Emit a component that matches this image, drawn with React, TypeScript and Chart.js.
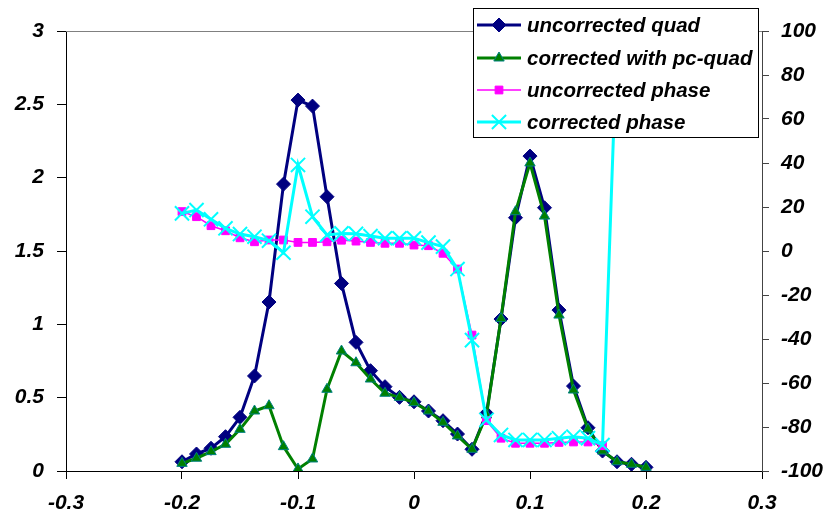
import React, { useEffect, useRef } from 'react';
import { Chart, registerables } from 'chart.js';
import { drawPoint } from 'chart.js/helpers';

Chart.register(...registerables);

const xValues = [
  -0.2, -0.1875, -0.175, -0.1625, -0.15, -0.1375, -0.125, -0.1125, -0.1, -0.0875, -0.075,
  -0.0625, -0.05, -0.0375, -0.025, -0.0125, 0, 0.0125, 0.025, 0.0375, 0.05, 0.0625, 0.075,
  0.0875, 0.1, 0.1125, 0.125, 0.1375, 0.15, 0.1625, 0.175, 0.1875, 0.2,
];

const uncorrectedQuad = [
  0.063, 0.116, 0.155, 0.234, 0.366, 0.648, 1.152, 1.956, 2.529, 2.488, 1.87, 1.279, 0.877,
  0.684, 0.575, 0.502, 0.472, 0.409, 0.343, 0.252, 0.148, 0.393, 1.036, 1.727, 2.147, 1.795,
  1.097, 0.579, 0.295, 0.136, 0.063, 0.046, 0.025,
];

const correctedPcQuad = [
  0.052, 0.087, 0.132, 0.182, 0.284, 0.409, 0.445, 0.166, 0.014, 0.082, 0.557, 0.818, 0.738,
  0.627, 0.53, 0.502, 0.466, 0.409, 0.332, 0.239, 0.148, 0.382, 1.04, 1.768, 2.1, 1.738,
  1.063, 0.552, 0.286, 0.136, 0.063, 0.046, 0.025,
];

const uncorrectedPhase = [
  17.9, 15.6, 11.5, 9.2, 6.0, 4.2, 5.0, 5.0, 3.9, 3.9, 4.2, 4.9, 4.5, 3.9, 3.5, 3.5, 2.7, 2.4,
  -1.05, -8.2, -38.2, -77.1, -85.1, -87.4, -87.4, -87.4, -87.0, -86.8, -86.8, -88.5,
];

const correctedPhase = [
  17.1, 18.6, 14.4, 10.3, 7.7, 6.5, 4.7, -0.8, 39.1, 15.6, 7.3, 8.0, 7.8, 6.8, 5.8, 5.8, 5.8,
  3.8, 2.0, -8.2, -40.5, -76.8, -83.6, -85.9, -85.9, -85.9, -85.1, -84.4, -85.1, -88.2, 98,
];

const seriesNames = [
  'uncorrected quad',
  'corrected with pc-quad',
  'uncorrected phase',
  'corrected phase',
];

const FAMILY = '"Liberation Sans", Arial, sans-serif';

const fmt = (v: number) => String(Math.round(v * 1000) / 1000);

export default function App() {
  const ref = useRef<HTMLCanvasElement>(null);

  useEffect(() => {
    const toPts = (ys: number[]) => ys.map((y, i) => ({ x: xValues[i], y }));

    const styles = [
      { line: '#000080', lw: 3, ps: 'rectRot', r: 7, fill: '#000080', stroke: '#000080', pbw: 1 },
      { line: '#008000', lw: 3, ps: 'triangle', r: 6, fill: '#008000', stroke: '#008080', pbw: 1 },
      { line: '#FF00FF', lw: 1.5, ps: 'rect', r: 5.5, fill: '#FF00FF', stroke: '#FF00FF', pbw: 1 },
      { line: '#00FFFF', lw: 3, ps: 'crossRot', r: 10, fill: '#00FFFF', stroke: '#00FFFF', pbw: 2 },
    ];

    const frame = {
      id: 'frame',
      beforeDatasetsDraw(chart: any) {
        const { ctx, chartArea } = chart;
        ctx.save();
        ctx.strokeStyle = '#808080';
        ctx.lineWidth = 1;
        ctx.beginPath();
        ctx.moveTo(chartArea.left, chartArea.top + 0.5);
        ctx.lineTo(chartArea.right, chartArea.top + 0.5);
        ctx.stroke();
        ctx.restore();
      },
    };

    const legendBox = {
      id: 'legendBox',
      afterDraw(chart: any) {
        const ctx = chart.ctx;
        ctx.save();
        const bx = 473, by = 8, bw = 285, bh = 129;
        ctx.fillStyle = '#ffffff';
        ctx.fillRect(bx, by, bw, bh);
        ctx.strokeStyle = '#000000';
        ctx.lineWidth = 1;
        ctx.strokeRect(bx + 0.5, by + 0.5, bw, bh);
        const rows = [25, 58, 90, 122];
        ctx.font = `italic bold 20.5px ${FAMILY}`;
        ctx.textBaseline = 'middle';
        ctx.textAlign = 'left';
        styles.forEach((s, i) => {
          const y = rows[i];
          ctx.strokeStyle = s.line;
          ctx.lineWidth = s.lw;
          ctx.beginPath();
          ctx.moveTo(477, y);
          ctx.lineTo(521, y);
          ctx.stroke();
          ctx.fillStyle = s.fill;
          ctx.strokeStyle = s.stroke;
          ctx.lineWidth = s.pbw;
          drawPoint(ctx, { pointStyle: s.ps as any, rotation: 0, radius: s.r, borderWidth: s.pbw }, 499, y);
          ctx.fillStyle = '#000000';
          ctx.fillText(seriesNames[i], 527, y + 1);
        });
        ctx.restore();
      },
    };

    const series = [uncorrectedQuad, correctedPcQuad, uncorrectedPhase, correctedPhase];
    const axes = ['y', 'y', 'y1', 'y1'];
    const orders = [4, 3, 2, 1];

    const tickFont = { family: FAMILY, size: 21, style: 'italic' as const, weight: 'bold' as const };

    const chart = new Chart(ref.current as HTMLCanvasElement, {
      type: 'scatter',
      data: {
        datasets: series.map((ys, i) => ({
          label: seriesNames[i],
          data: toPts(ys),
          yAxisID: axes[i],
          order: orders[i],
          showLine: true,
          borderColor: styles[i].line,
          borderWidth: styles[i].lw,
          backgroundColor: styles[i].fill,
          pointStyle: styles[i].ps as any,
          pointRadius: styles[i].r,
          pointHoverRadius: styles[i].r,
          pointBackgroundColor: styles[i].fill,
          pointBorderColor: styles[i].stroke,
          pointBorderWidth: styles[i].pbw,
          tension: 0,
        })),
      },
      options: {
        animation: false,
        responsive: true,
        maintainAspectRatio: false,
        layout: { padding: { top: 31, left: 0, right: 0, bottom: 0 } },
        plugins: { legend: { display: false }, tooltip: { enabled: false } },
        scales: {
          x: {
            type: 'linear',
            position: 'bottom',
            min: -0.3,
            max: 0.3,
            ticks: { stepSize: 0.1, callback: (v: any) => fmt(Number(v)), font: tickFont, color: '#000', padding: 12, maxRotation: 0 },
            grid: { drawOnChartArea: false, drawTicks: true, tickLength: 8, color: '#000' },
            border: { color: '#000', width: 1 },
            afterFit: (s: any) => { s.height = 47; },
          },
          y: {
            type: 'linear',
            position: 'left',
            min: 0,
            max: 3,
            ticks: { stepSize: 0.5, callback: (v: any) => fmt(Number(v)), font: tickFont, color: '#000', padding: 13 },
            grid: { drawOnChartArea: false, drawTicks: true, tickLength: 9, color: '#000' },
            border: { color: '#000', width: 1 },
            afterFit: (s: any) => { s.width = 66; },
          },
          y1: {
            type: 'linear',
            position: 'right',
            min: -100,
            max: 100,
            ticks: { stepSize: 20, callback: (v: any) => fmt(Number(v)), font: tickFont, color: '#000', padding: 12 },
            grid: { drawOnChartArea: false, drawTicks: true, tickLength: 7, color: '#444' },
            border: { color: '#444', width: 1 },
            afterFit: (s: any) => { s.width = 65; },
          },
        },
      },
      plugins: [frame, legendBox],
    });

    return () => chart.destroy();
  }, []);

  return (
    <div style={{ position: 'absolute', left: 0, top: 0, width: 827, height: 518, background: '#fff' }}>
      <canvas ref={ref} />
    </div>
  );
}
